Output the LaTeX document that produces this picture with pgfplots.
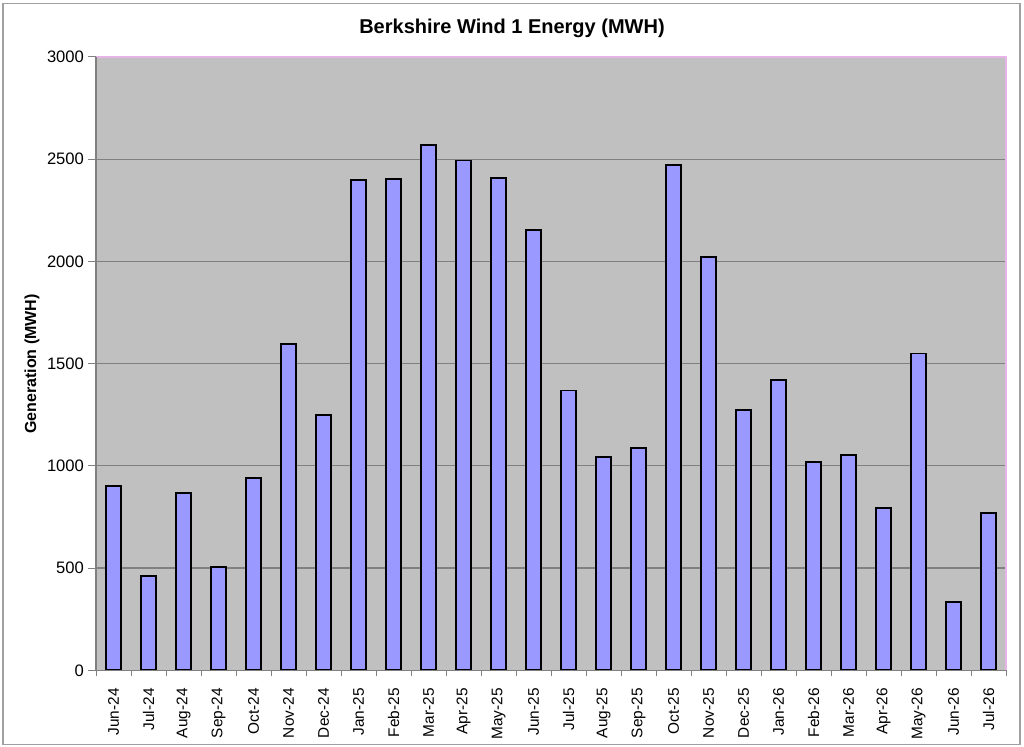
\documentclass[border=0pt]{standalone}
\usepackage{pgfplots}
\pgfplotsset{compat=1.18}
\usepackage{fontspec}
\setmainfont{Liberation Sans}
\definecolor{plotbg}{HTML}{C0C0C0}
\definecolor{gridc}{HTML}{808080}
\definecolor{barc}{HTML}{9999FF}
\definecolor{pinkc}{HTML}{E6B4E6}
\definecolor{framec}{HTML}{A0A0A0}
\pgfplotstableread{
x y
0 900
1 461
2 866
3 507
4 939
5 1596
6 1249
7 2398
8 2403
9 2571
10 2493
11 2408
12 2154
13 1368
14 1043
15 1087
16 2472
17 2020
18 1275
19 1420
20 1019
21 1052
22 794
23 1549
24 333
25 769
}\energy
\begin{document}
\begin{tikzpicture}
\useasboundingbox (0,0) rectangle (512pt,373pt);
\draw[framec, line width=0.6pt] (1.5pt,0.75pt) rectangle (510pt,371.25pt);
\begin{axis}[
  at={(48pt,37.85pt)}, anchor=south west,
  scale only axis, width=455pt, height=306.7pt,
  xmin=-0.5, xmax=25.5, ymin=0, ymax=3000,
  axis background/.style={fill=plotbg},
  axis line style={draw=none},
  ytick={0,500,...,3000},
  xtick={0,...,25},
  xticklabels={Jun-24,Jul-24,Aug-24,Sep-24,Oct-24,Nov-24,Dec-24,Jan-25,Feb-25,Mar-25,Apr-25,May-25,Jun-25,Jul-25,Aug-25,Sep-25,Oct-25,Nov-25,Dec-25,Jan-26,Feb-26,Mar-26,Apr-26,May-26,Jun-26,Jul-26},
  minor xtick={-0.5,0.5,...,25.5},
  x tick label style={rotate=90, anchor=east, font=\fontsize{7.7}{9}\selectfont},
  y tick label style={font=\fontsize{8.3}{10}\selectfont},
  xticklabel shift=1.5pt,
  yticklabel shift=-1.5pt,
  /pgf/number format/assume math mode=true,
  /pgf/number format/1000 sep={},
  tick align=outside,
  xtick pos=bottom, ytick pos=left,
  major x tick style={draw=none},
  minor x tick style={gridc, line width=0.5pt},
  minor tick length=3pt,
  major tick length=4pt,
  y tick style={gridc, line width=0.5pt},
  ymajorgrids,
  major grid style={gridc, line width=0.6pt},
  clip=false,
]
\addplot[ybar, bar width=7.5pt, fill=barc, draw=black, line width=0.9pt] table[x=x,y=y] {\energy};
\draw[pinkc, line width=0.8pt] (rel axis cs:0,1) -- (rel axis cs:1,1) -- (rel axis cs:1,0);
\draw[gridc, line width=0.6pt] (rel axis cs:0,1) -- (rel axis cs:0,0) -- (rel axis cs:1,0);
\end{axis}
\node[font=\bfseries\fontsize{10}{12}\selectfont] at (256pt,359pt) {Berkshire Wind 1 Energy (MWH)};
\node[font=\bfseries\fontsize{8}{10}\selectfont, rotate=90] at (16pt,191pt) {Generation (MWH)};
\end{tikzpicture}
\end{document}
